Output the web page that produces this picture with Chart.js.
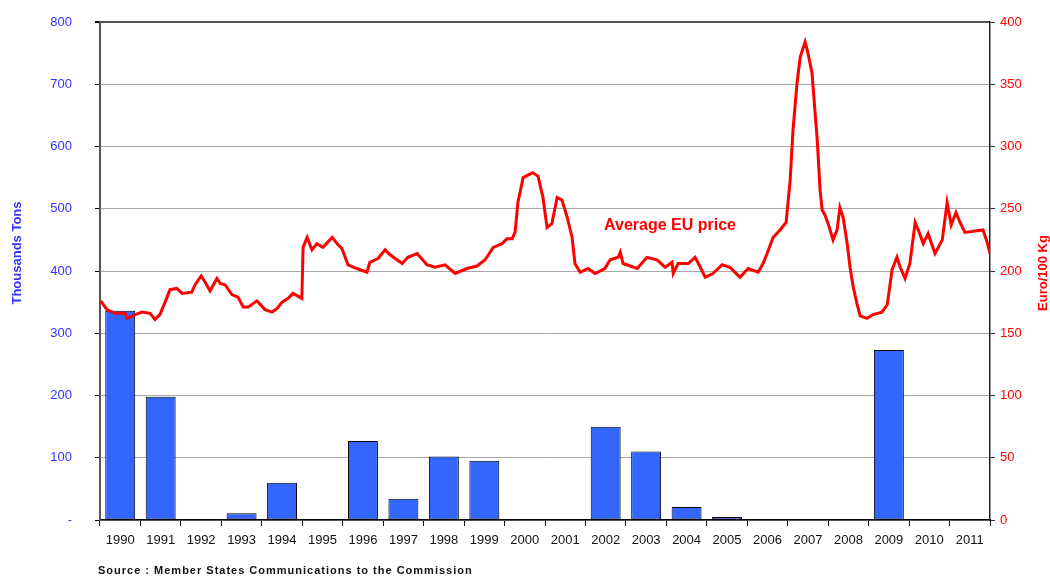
<!DOCTYPE html>
<html>
<head>
<meta charset="utf-8">
<script src="https://cdn.jsdelivr.net/npm/chart.js@4.4.1/dist/chart.umd.min.js"></script>
<style>
  html, body { margin: 0; padding: 0; background: #fff; }
  #wrap { width: 1050px; height: 577px; }
</style>
</head>
<body>
<div id="wrap"><canvas id="chart" width="1050" height="577"></canvas></div>
<script>
// years on the category axis
var years = ['1990','1991','1992','1993','1994','1995','1996','1997','1998','1999','2000',
             '2001','2002','2003','2004','2005','2006','2007','2008','2009','2010','2011'];

// thousands of tons (left axis), empty years = no bar
var tons = [336, 198, null, 11, 60, null, 127, 34, 102, 95, null,
            null, 150, 110, 21, 5, null, null, null, 273, null, null];

// average EU price, Euro/100 Kg (right axis)
var priceDates = [
  1990.02,1990.17,1990.37,1990.62,1990.67,1990.87,
  1991.04,1991.24,1991.36,1991.48,1991.61,1991.73,1991.90,
  1992.03,1992.27,1992.35,1992.50,1992.60,1992.72,1992.89,1992.97,
  1993.09,1993.26,1993.41,1993.54,1993.66,1993.88,
  1994.08,1994.25,1994.38,1994.50,1994.65,1994.77,1994.99,
  1995.02,1995.12,1995.24,1995.36,1995.51,1995.74,1995.86,1995.98,
  1996.13,1996.35,1996.60,1996.67,1996.87,
  1997.05,1997.17,1997.47,1997.61,1997.84,
  1998.08,1998.28,1998.53,1998.78,
  1999.07,1999.32,1999.52,1999.72,1999.94,
  2000.06,2000.19,2000.26,2000.33,2000.46,2000.58,2000.70,2000.83,2000.95,
  2001.05,2001.17,2001.30,2001.42,2001.55,2001.67,2001.74,2001.87,
  2002.06,2002.24,2002.48,2002.61,2002.81,2002.86,2002.93,
  2003.28,2003.52,2003.77,2003.97,
  2004.14,2004.17,2004.29,2004.54,2004.71,2004.84,2004.96,
  2005.15,2005.38,2005.57,2005.82,
  2006.02,2006.27,2006.39,2006.49,2006.64,2006.81,2006.96,
  2007.06,2007.13,2007.23,2007.31,2007.43,2007.50,2007.60,2007.73,2007.80,2007.85,2007.92,
  2008.00,2008.12,2008.22,2008.29,2008.37,2008.47,2008.54,2008.62,2008.71,2008.79,2008.96,
  2009.11,2009.33,2009.46,2009.58,2009.70,2009.78,2009.90,
  2010.02,2010.15,2010.25,2010.35,2010.47,2010.64,2010.82,2010.94,
  2011.04,2011.16,2011.26,2011.38,2011.58,2011.83,2011.93,2012.00
];
var priceValues = [
  176,169,166,166,162,165,
  167,166,161,165,175,185,186,
  182,183,189,196,191,184,194,190,
  189,181,179,171,171,176,
  169,167,170,175,178,182,178,
  219,227,217,222,219,227,222,218,
  205,202,199,207,210,
  217,213,206,211,214,
  205,203,205,198,
  202,204,209,219,222,
  226,226,231,255,275,277,279,276,259,
  235,238,259,257,243,227,206,199,
  202,198,202,209,211,215,206,
  202,211,209,203,
  207,198,206,206,211,203,195,
  198,205,203,195,
  202,199,206,214,227,233,239,
  273,313,351,372,384,375,359,305,265,249,245,
  238,225,233,251,243,222,203,187,174,164,162,
  165,167,173,201,211,203,194,
  206,239,231,222,230,214,225,255,
  237,247,239,231,232,233,223,214
];

var pricePoints = [];
for (var i in priceDates) {
    pricePoints.push({ x: priceDates[i], y: priceValues[i] });
}

var blue = '#3333FF';
var red = '#FF0000';

// titles, label and source drawn as text on the canvas
var textPlugin = {
    id: 'texts',
    afterDraw: function (chart) {
        var ctx = chart.ctx;
        var area = chart.chartArea;
        var midY = (area.top + area.bottom) / 2;
        ctx.save();
        ctx.textAlign = 'center';
        ctx.textBaseline = 'middle';

        ctx.font = 'bold 13px "Liberation Sans", Arial, sans-serif';
        ctx.fillStyle = blue;
        ctx.save();
        ctx.translate(17, midY - 18);
        ctx.rotate(-Math.PI / 2);
        ctx.fillText('Thousands Tons', 0, 0);
        ctx.restore();

        ctx.fillStyle = red;
        ctx.save();
        ctx.translate(1043, midY + 2);
        ctx.rotate(-Math.PI / 2);
        ctx.fillText('Euro/100 Kg', 0, 0);
        ctx.restore();

        ctx.font = 'bold 16px "Liberation Sans", Arial, sans-serif';
        ctx.fillText('Average EU price', 670, 226);

        ctx.textAlign = 'left';
        ctx.fillStyle = '#111';
        ctx.font = 'bold 11px "Liberation Sans", Arial, sans-serif';
        if ('letterSpacing' in ctx) ctx.letterSpacing = '1px';
        ctx.fillText('Source : Member States Communications to the Commission', 98, 571);
        ctx.restore();
    }
};

var chartdata = {
    labels: years,
    datasets: [
        {
            type: 'line',
            label: 'Average EU price',
            data: pricePoints,
            xAxisID: 'xp',
            yAxisID: 'y2',
            borderColor: red,
            borderWidth: 3,
            pointRadius: 0,
            tension: 0,
            order: 0
        },
        {
            type: 'bar',
            label: 'Thousands Tons',
            data: tons,
            xAxisID: 'x',
            yAxisID: 'y',
            backgroundColor: '#3366FF',
            borderColor: '#000',
            borderWidth: 1,
            borderSkipped: false,
            grouped: false,
            categoryPercentage: 1,
            barPercentage: 0.74,
            order: 1
        }
    ]
};

var barGraph = new Chart(document.getElementById('chart'), {
    type: 'bar',
    data: chartdata,
    plugins: [textPlugin],
    options: {
        responsive: false,
        animation: false,
        layout: { padding: { top: 22, left: 0, right: 0, bottom: 0 } },
        plugins: {
            legend: { display: false },
            tooltip: { enabled: false }
        },
        scales: {
            x: {
                type: 'category',
                offset: true,
                grid: { drawOnChartArea: false, offset: true, tickLength: 6, tickColor: '#000' },
                border: { color: '#000', width: 1.5 },
                ticks: {
                    color: '#111', padding: 7, maxRotation: 0, autoSkip: false,
                    font: { family: '"Liberation Sans", Arial, sans-serif', size: 13 }
                },
                afterFit: function (scale) { scale.height = 57; }
            },
            xp: {
                type: 'linear',
                display: false,
                offset: false,
                min: 1990,
                max: 2012
            },
            y: {
                position: 'left',
                min: 0,
                max: 800,
                ticks: {
                    stepSize: 100, color: blue, padding: 23,
                    font: { family: '"Liberation Sans", Arial, sans-serif', size: 13 },
                    callback: function (v) { return v === 0 ? '-' : v; }
                },
                grid: {
                    color: function (c) { return c.tick && c.tick.value === 800 ? '#555' : '#a8a8a8'; },
                    lineWidth: function (c) { return c.tick && c.tick.value === 800 ? 2 : 1; },
                    tickLength: 5,
                    tickColor: '#000'
                },
                border: { color: '#555', width: 2 },
                afterFit: function (scale) {
                    scale.width = 100;
                    scale.paddingTop = 0;
                    scale.paddingBottom = 0;
                }
            },
            y2: {
                position: 'right',
                min: 0,
                max: 400,
                ticks: {
                    stepSize: 50, color: red, padding: 5,
                    font: { family: '"Liberation Sans", Arial, sans-serif', size: 13 }
                },
                grid: { drawOnChartArea: false, tickLength: 5, tickColor: '#333' },
                border: { color: '#222', width: 1.5 },
                afterFit: function (scale) {
                    scale.width = 60;
                    scale.paddingTop = 0;
                    scale.paddingBottom = 0;
                }
            }
        }
    }
});
</script>
</body>
</html>
